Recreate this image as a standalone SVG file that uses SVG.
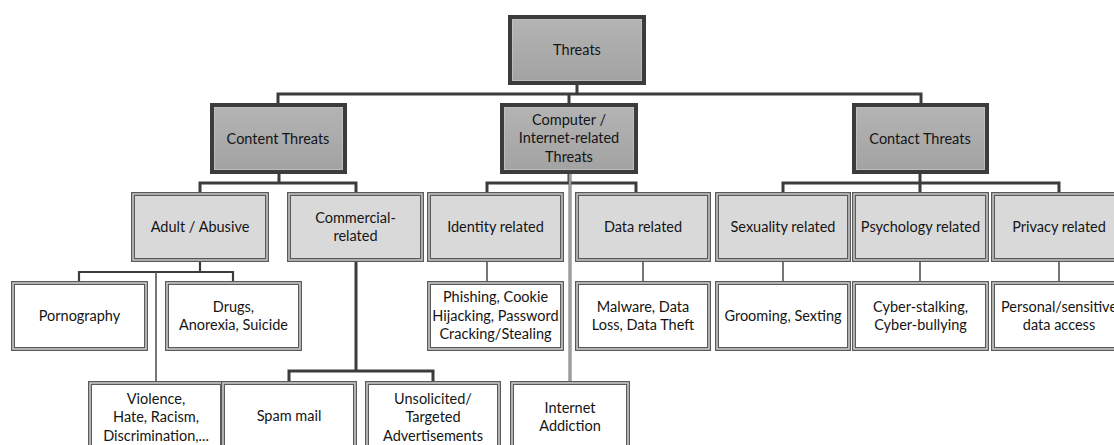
<svg xmlns="http://www.w3.org/2000/svg" width="1114" height="445" viewBox="0 0 1114 445">
<defs>
<linearGradient id="gTop" x1="0" y1="0" x2="0" y2="1">
<stop offset="0" stop-color="#b4b4b4"/>
<stop offset="1" stop-color="#a2a2a2"/>
</linearGradient>
<style>
text{font-family:Lato,"Liberation Sans",sans-serif;font-size:14.5px;fill:#151515;text-anchor:middle;dominant-baseline:central}
.top .o{fill:url(#gTop);stroke:#3c3c3c;stroke-width:4}
.top .i{fill:none;stroke:#c4c4c4;stroke-width:0.8}
.mid .o{fill:#d9d9d9;stroke:#5a5a5a;stroke-width:4}
.mid .i{fill:none;stroke:#c8c8c8;stroke-width:1.5}
.leaf .o{fill:#fff;stroke:#5a5a5a;stroke-width:4}
.leaf .i{fill:none;stroke:#cfcfcf;stroke-width:1.5}
.c path{fill:none;stroke:#3c3c3c;stroke-width:3}
.c .t{stroke:#4a4a4a;stroke-width:1.5}
.c .l1{stroke:#6a6a6a;stroke-width:3}
.c .l2{stroke:#d0d0d0;stroke-width:1}
</style>
</defs>
<rect width="1114" height="445" fill="#fff"/>
<g id="connectors" class="c">
<path d="M577 83V94M278 105V94H921V105M569 94V105"/>
<path d="M279 172V183M200 194V183H356V194"/>
<path d="M569 172V183M487 194V183H636V194"/>
<path class="l1" d="M570 172V383"/>
<path class="l2" d="M570 172V383"/>
<path d="M920 172V194M783 194V183H1059V194"/>
<path d="M200 260V272M79 283V272H233V283" style="stroke-width:2.2"/>
<path class="t" d="M156 272V383"/>
<path d="M356 260V371M289 383V371H433V383"/>
<path class="t" d="M487 260V283M643 260V283M783 260V283M920 260V283M1059 260V283"/>
</g>
<g id="threats" class="top"><rect class="o" x="510" y="17" width="134" height="66"/><rect class="i" x="512.5" y="19.5" width="129" height="61"/><text x="577" y="49">Threats</text></g>
<g id="content-threats" class="top"><rect class="o" x="212" y="105" width="133" height="67"/><rect class="i" x="214.5" y="107.5" width="128" height="62"/><text x="278" y="138">Content Threats</text></g>
<g id="computer-threats" class="top"><rect class="o" x="502" y="105" width="134" height="67"/><rect class="i" x="504.5" y="107.5" width="129" height="62"/><text x="569" y="119">Computer /</text><text x="569" y="137.5">Internet-related</text><text x="569" y="156">Threats</text></g>
<g id="contact-threats" class="top"><rect class="o" x="854" y="105" width="133" height="67"/><rect class="i" x="856.5" y="107.5" width="128" height="62"/><text x="920" y="138">Contact Threats</text></g>
<g id="adult" class="mid"><rect class="o" x="133" y="194" width="134" height="66"/><rect class="i" x="133" y="194" width="134" height="66"/><text x="200" y="226">Adult / Abusive</text></g>
<g id="commercial" class="mid"><rect class="o" x="289" y="194" width="133" height="66"/><rect class="i" x="289" y="194" width="133" height="66"/><text x="355.5" y="217">Commercial-</text><text x="355.5" y="235">related</text></g>
<g id="identity" class="mid"><rect class="o" x="429" y="194" width="133" height="66"/><rect class="i" x="429" y="194" width="133" height="66"/><text x="495.5" y="226">Identity related</text></g>
<g id="data" class="mid"><rect class="o" x="577" y="194" width="132" height="66"/><rect class="i" x="577" y="194" width="132" height="66"/><text x="643" y="226">Data related</text></g>
<g id="sexuality" class="mid"><rect class="o" x="717" y="194" width="132" height="66"/><rect class="i" x="717" y="194" width="132" height="66"/><text x="783" y="226">Sexuality related</text></g>
<g id="psychology" class="mid"><rect class="o" x="854" y="194" width="133" height="66"/><rect class="i" x="854" y="194" width="133" height="66"/><text x="920.5" y="226">Psychology related</text></g>
<g id="privacy" class="mid"><rect class="o" x="993" y="194" width="133" height="66"/><rect class="i" x="993" y="194" width="133" height="66"/><text x="1059" y="226">Privacy related</text></g>
<g id="pornography" class="leaf"><rect class="o" x="13" y="283" width="133" height="66"/><rect class="i" x="13" y="283" width="133" height="66"/><text x="79.5" y="315">Pornography</text></g>
<g id="drugs" class="leaf"><rect class="o" x="167" y="283" width="133" height="66"/><rect class="i" x="167" y="283" width="133" height="66"/><text x="233.5" y="306">Drugs,</text><text x="233.5" y="324.5">Anorexia, Suicide</text></g>
<g id="phishing" class="leaf"><rect class="o" x="429" y="283" width="133" height="66"/><rect class="i" x="429" y="283" width="133" height="66"/><text x="495.5" y="296.5">Phishing, Cookie</text><text x="495.5" y="315">Hijacking, Password</text><text x="495.5" y="333.5">Cracking/Stealing</text></g>
<g id="malware" class="leaf"><rect class="o" x="577" y="283" width="132" height="66"/><rect class="i" x="577" y="283" width="132" height="66"/><text x="643" y="306">Malware, Data</text><text x="643" y="324.5">Loss, Data Theft</text></g>
<g id="grooming" class="leaf"><rect class="o" x="717" y="283" width="132" height="66"/><rect class="i" x="717" y="283" width="132" height="66"/><text x="783" y="315">Grooming, Sexting</text></g>
<g id="cyber" class="leaf"><rect class="o" x="854" y="283" width="133" height="66"/><rect class="i" x="854" y="283" width="133" height="66"/><text x="920.5" y="306">Cyber-stalking,</text><text x="920.5" y="324.5">Cyber-bullying</text></g>
<g id="personal" class="leaf"><rect class="o" x="993" y="283" width="133" height="66"/><rect class="i" x="993" y="283" width="133" height="66"/><text x="1059" y="306">Personal/sensitive</text><text x="1059" y="324.5">data access</text></g>
<g id="violence" class="leaf"><rect class="o" x="90" y="383" width="132" height="72"/><rect class="i" x="90" y="383" width="132" height="72"/><text x="156" y="398">Violence,</text><text x="156" y="416.5">Hate, Racism,</text><text x="156" y="435">Discrimination,...</text></g>
<g id="spam" class="leaf"><rect class="o" x="223" y="383" width="132" height="72"/><rect class="i" x="223" y="383" width="132" height="72"/><text x="289" y="415">Spam mail</text></g>
<g id="unsolicited" class="leaf"><rect class="o" x="367" y="383" width="132" height="72"/><rect class="i" x="367" y="383" width="132" height="72"/><text x="433" y="398">Unsolicited/</text><text x="433" y="416.5">Targeted</text><text x="433" y="435">Advertisements</text></g>
<g id="internet-addiction" class="leaf"><rect class="o" x="512" y="383" width="116" height="72"/><rect class="i" x="512" y="383" width="116" height="72"/><text x="570" y="407">Internet</text><text x="570" y="425">Addiction</text></g>
</svg>
